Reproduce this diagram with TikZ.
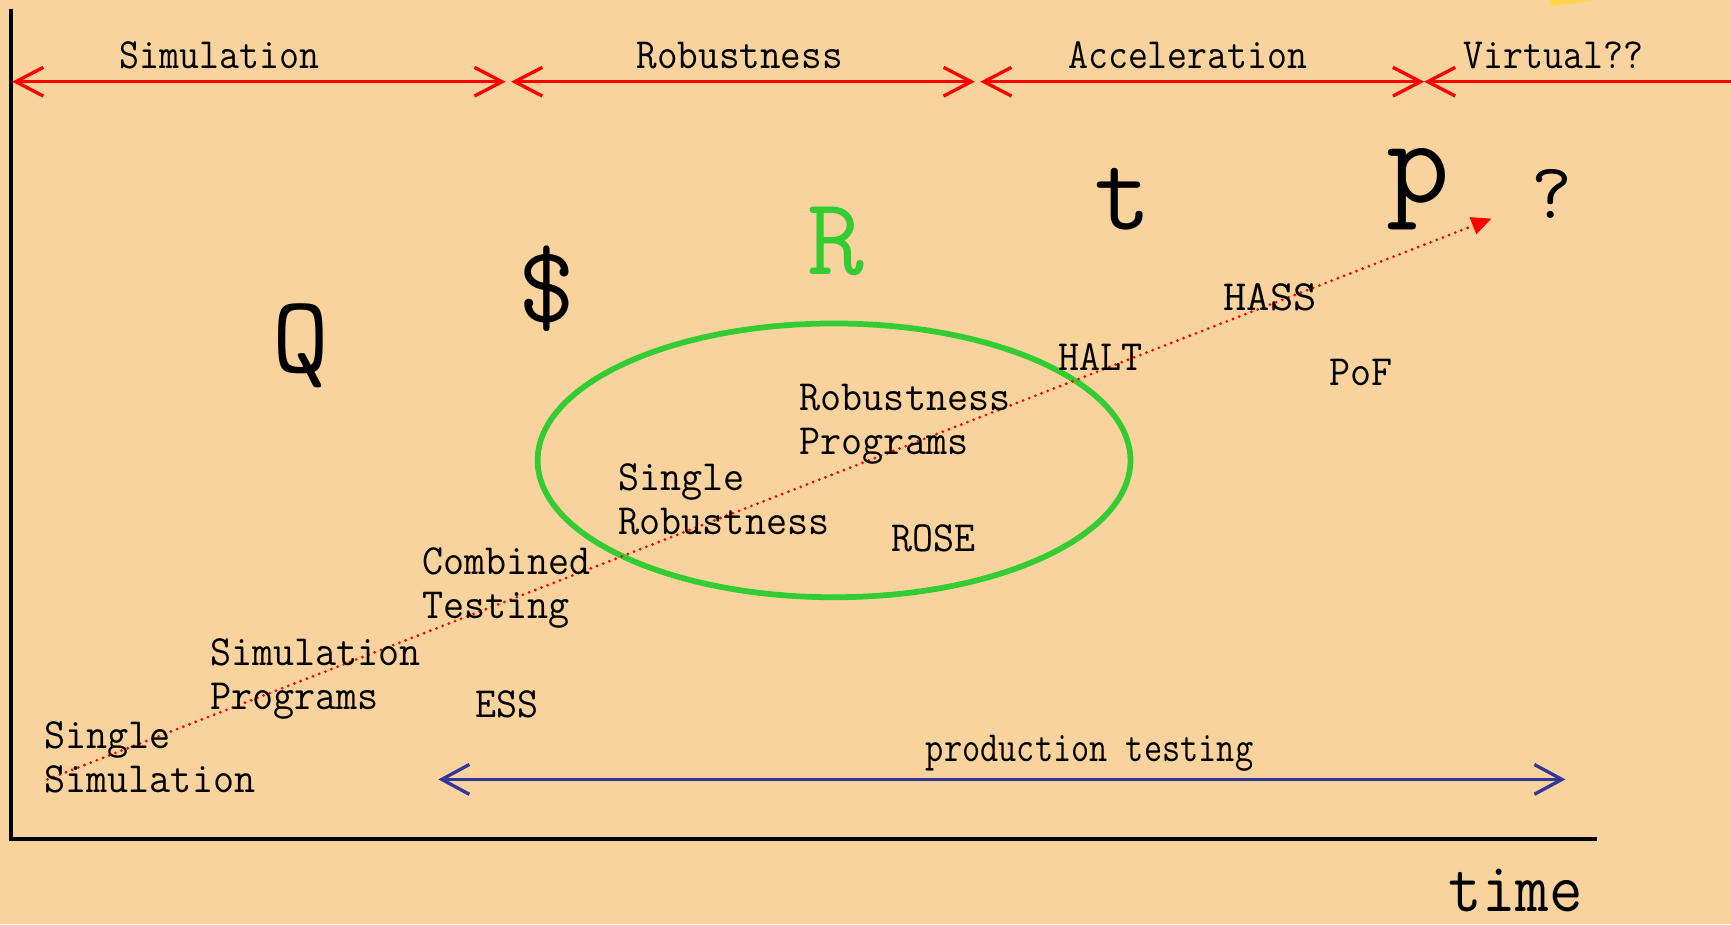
\documentclass[tikz,border=0pt]{standalone}
\usepackage{xcolor}
\usepackage{tikz}
\usetikzlibrary{arrows.meta}
\definecolor{PaperTan}{HTML}{F8D39D}
\definecolor{EraRed}{HTML}{FF0000}
\definecolor{RingGreen}{HTML}{33CC33}
\definecolor{ProdBlue}{HTML}{35359A}
\definecolor{SunYel}{HTML}{FFD54A}

\begin{document}
\begin{tikzpicture}[x=0.5pt,y=-0.5pt,
  lbl/.style={font=\ttfamily\fontsize{19.5}{20}\selectfont,xscale=0.95,
              inner sep=0pt,align=left,anchor=west},
  era/.style={font=\ttfamily\fontsize{19.5}{20}\selectfont,xscale=0.9,
              inner sep=0pt,anchor=base},
  big/.style={font=\ttfamily\fontsize{50}{52}\selectfont,inner sep=0pt,
              anchor=base},
  span/.style={{Straight Barb[length=12.5pt,width=13pt]}-{Straight Barb[length=12.5pt,width=13pt]},
               line width=1.5pt,EraRed},
  prod/.style={{Straight Barb[length=12.5pt,width=13.5pt]}-{Straight Barb[length=12.5pt,width=13.5pt]},
               line width=1.5pt,ProdBlue},
  trend/.style={-{Triangle[length=9pt,width=8pt]},EraRed,line width=1.4pt,
                dash pattern=on 0pt off 3pt,line cap=round},
  axis/.style={line width=1.5pt,black}]
\useasboundingbox (0,0) rectangle (1568,837);
\fill[PaperTan] (0,0) rectangle (1568,837);
\fill[SunYel] (1404,0) -- (1404,6) -- (1446,0) -- cycle;

% axes
\coordinate (top) at (10,8);
\coordinate (orig) at (10,760);
\coordinate (xend) at (1447,760);
\draw[axis] (top) -- (orig) -- (xend);

% eras along the top
\coordinate (e0) at (11,74);
\coordinate (e1) at (458,74);
\coordinate (e1b) at (463,74);
\coordinate (e2) at (883,74);
\coordinate (e2b) at (888,74);
\coordinate (e3) at (1290,74);
\coordinate (e4) at (1568,74);
\draw[span] (e0) -- (e1);
\draw[span] (e1b) -- (e2);
\draw[span] (e2b) -- (e3);
\draw[EraRed,line width=1.5pt,{Straight Barb[length=12.5pt,width=13pt]}-] (e3) -- (e4);
\node[era] (simera) at (199,62) {Simulation};
\node[era,xscale=0.93/0.9] (robera) at (670,62) {Robustness};
\node[era] (accera) at (1076,62) {Acceleration};
\node[era] (virera) at (1407,62) {Virtual??};

% big symbols
\node[big] (qual) at (273,337) {Q};
\node[big] (cost) at (495,292) {\$};
\node[big,text=RingGreen] (rel) at (757,249) {R};
\node[big] (tm) at (1017,208) {t};
\node[big,font=\ttfamily\fontsize{56}{58}\selectfont] (pf) at (1285,183) {p};
\node[big,font=\ttfamily\fontsize{36}{38}\selectfont] (qm) at (1406,198) {?};

% robustness ring
\draw[RingGreen,line width=2.6pt] (755.5,417) ellipse [x radius=134.25pt,y radius=62pt];

% trend
\coordinate (tstart) at (43,706);
\coordinate (tend) at (1351,198);
\draw[trend] (tstart) -- (tend);

% methods
\node[lbl] (ssim) at (40,686) {Single\\Simulation};
\node[lbl] (simprog) at (190,615) {Simulation\\Programs};
\node[lbl] (comb) at (382,533) {Combined\\Testing};
\node[lbl] (ess) at (430,638) {ESS};
\node[lbl] (srob) at (560,452) {Single\\Robustness};
\node[lbl] (robprog) at (724,384) {Robustness\\Programs};
\node[lbl] (rose) at (807,488) {ROSE};
\node[lbl] (halt) at (958,323) {HALT};
\node[lbl,xscale=1.05/0.95] (hass) at (1108,269) {HASS};
\node[lbl] (pof) at (1204,337) {PoF};

% production testing
\coordinate (pl) at (397,706);
\coordinate (pr) at (1418,706);
\draw[prod] (pl) -- (pr);
\node[era,xscale=0.82/0.9] (ptest) at (987,690) {production testing};

\node[era,font=\ttfamily\fontsize{32}{34}\selectfont,xscale=1.02] (tlabel) at (1373,826) {time};
\end{tikzpicture}
\end{document}
